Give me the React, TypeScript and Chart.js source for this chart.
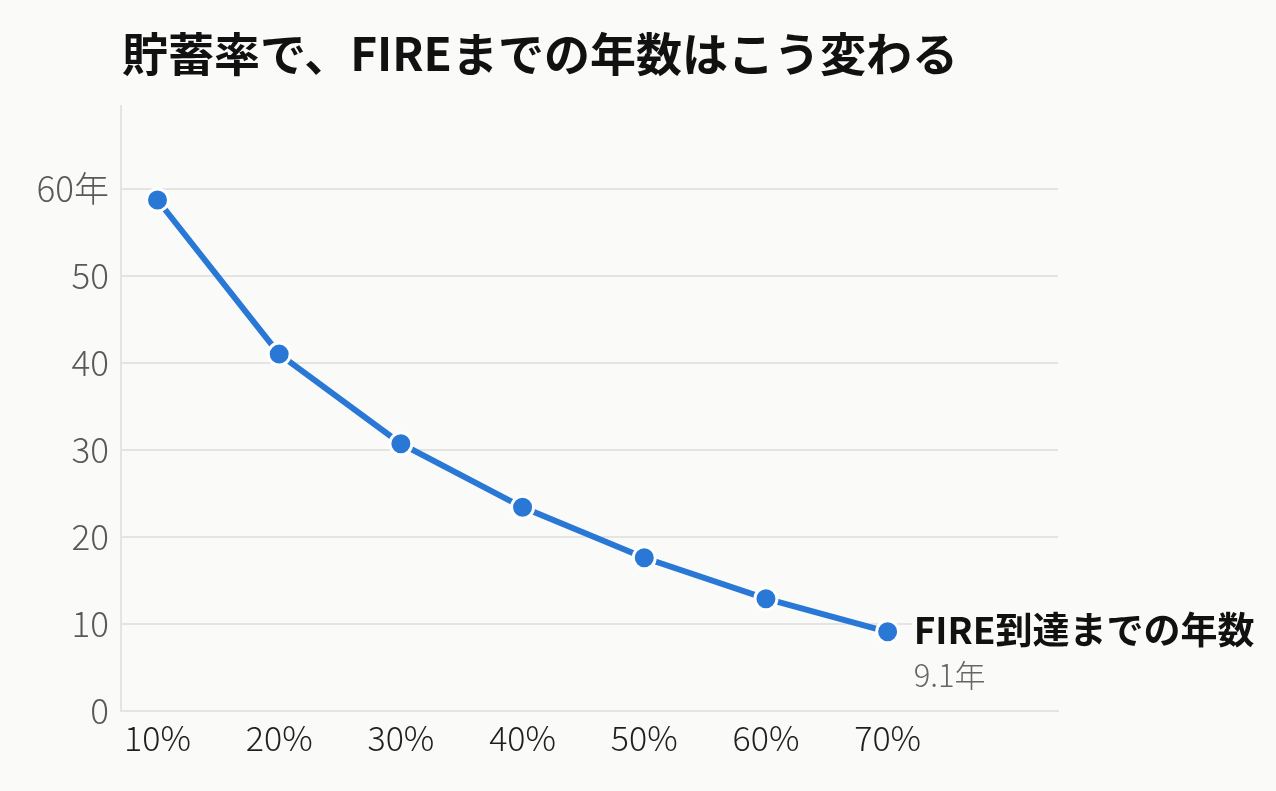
import React, { useEffect, useRef } from "react";
import { Chart, registerables } from "chart.js";

Chart.register(...registerables);

const TITLE = "貯蓄率で、FIREまでの年数はこう変わる";
const SERIES_LABEL = "FIRE到達までの年数";
const savingsRates = [10, 20, 30, 40, 50, 60, 70];
const yearsToFire = [58.7, 41.0, 30.7, 23.4, 17.6, 12.9, 9.1];
const yTickValues = [0, 10, 20, 30, 40, 50, 60];

const BG = "#fafaf8";
const BLUE = "#2a78d6";
const GRID = "#e4e4e2";
const FONT = "'Noto Sans CJK JP', 'Noto Sans', sans-serif";

export default function App() {
  const ref = useRef<HTMLCanvasElement | null>(null);

  useEffect(() => {
    document.body.style.margin = "0";
    document.body.style.background = BG;
    const canvas = ref.current;
    if (!canvas) return;

    const bgPlugin = {
      id: "bg",
      beforeDraw(chart: any) {
        const { ctx, width, height } = chart;
        ctx.save();
        ctx.fillStyle = BG;
        ctx.fillRect(0, 0, width, height);
        ctx.fillStyle = "#111111";
        ctx.font = `bold 46px ${FONT}`;
        ctx.textBaseline = "middle";
        ctx.textAlign = "left";
        ctx.fillText(TITLE, 122, 54);
        ctx.restore();
      },
    };

    const endLabelPlugin = {
      id: "endLabel",
      afterDraw(chart: any) {
        const meta = chart.getDatasetMeta(0);
        const last = meta.data[meta.data.length - 1];
        if (!last) return;
        const { ctx } = chart;
        const x = last.x + 26;
        const y = last.y;
        ctx.save();
        ctx.font = `bold 37px ${FONT}`;
        const w = ctx.measureText(SERIES_LABEL).width;
        ctx.fillStyle = BG;
        ctx.fillRect(x - 2, y - 24, w + 4, 44);
        ctx.fillStyle = "#111111";
        ctx.textBaseline = "middle";
        ctx.textAlign = "left";
        ctx.fillText(SERIES_LABEL, x, y - 2);
        ctx.font = `300 31px ${FONT}`;
        ctx.fillStyle = "#666666";
        ctx.fillText(`${yearsToFire[yearsToFire.length - 1]}年`, x, y + 43);
        ctx.restore();
      },
    };

    const chart = new Chart(canvas, {
      type: "line",
      data: {
        datasets: [
          {
            label: SERIES_LABEL,
            data: savingsRates.map((r, i) => ({ x: r, y: yearsToFire[i] })),
            borderColor: BLUE,
            backgroundColor: BLUE,
            borderWidth: 6,
            pointRadius: 11,
            pointBorderWidth: 3,
            pointBorderColor: "#ffffff",
            pointBackgroundColor: BLUE,
            tension: 0,
            clip: false as any,
          },
        ],
      },
      options: {
        animation: false,
        responsive: false,
        devicePixelRatio: 1,
        layout: { padding: { left: 0, right: 218, top: 106, bottom: 0 } },
        plugins: {
          legend: { display: false },
          tooltip: { enabled: false },
          title: { display: false },
        },
        scales: {
          x: {
            type: "linear",
            min: 7,
            max: 84,
            afterBuildTicks: (scale: any) => {
              scale.ticks = savingsRates.map((v) => ({ value: v }));
            },
            afterFit: (scale: any) => {
              scale.height = 80;
            },
            grid: { display: false, drawTicks: false },
            border: { display: true, color: GRID, width: 2 },
            ticks: {
              padding: 7,
              color: "#1f1f1f",
              font: { family: FONT, size: 34, weight: "300" as any },
              maxRotation: 0,
              autoSkip: false,
              callback: (v: any) => `${v}%`,
            },
          },
          y: {
            type: "linear",
            min: 0,
            max: 69.5,
            afterBuildTicks: (scale: any) => {
              scale.ticks = yTickValues.map((v) => ({ value: v }));
            },
            afterFit: (scale: any) => {
              scale.width = 121;
            },
            grid: { color: GRID, lineWidth: 2, drawTicks: false },
            border: { display: true, color: GRID, width: 2 },
            ticks: {
              padding: 12,
              color: "#595959",
              font: { family: FONT, size: 35, weight: "300" as any },
              callback: (v: any) => (v === 60 ? `${v}年` : `${v}`),
            },
          },
        },
      },
      plugins: [bgPlugin, endLabelPlugin],
    });

    return () => chart.destroy();
  }, []);

  return <canvas ref={ref} width={1276} height={791} style={{ display: "block" }} />;
}
